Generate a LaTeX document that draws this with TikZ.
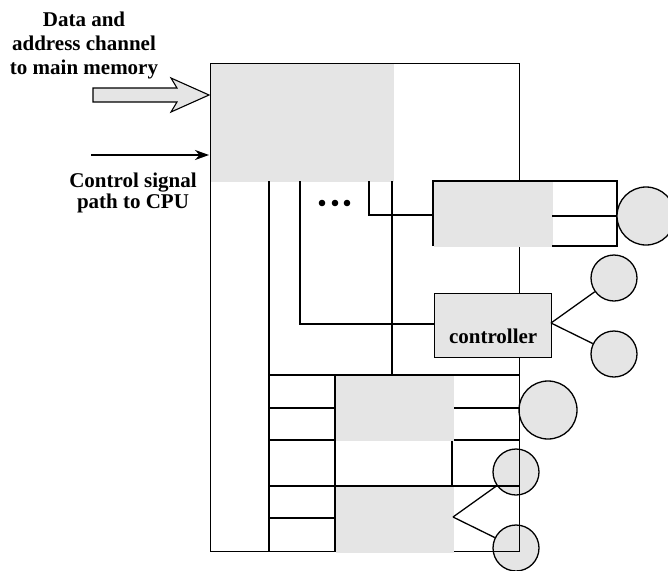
\documentclass[tikz,border=0pt]{standalone}
\usepackage{fontspec}
\setmainfont{Liberation Serif}
\usetikzlibrary{arrows.meta}
\definecolor{boxgray}{RGB}{229,229,229}
\begin{document}
\begin{tikzpicture}[x=1pt,y=-1pt, line width=1.3pt,
  grayarea/.style={fill=boxgray, draw=none, inner sep=0pt, anchor=north west},
  boxed/.style={fill=boxgray, draw=black, inner sep=0pt, anchor=north west},
  dev/.style={circle, draw=black, fill=boxgray, inner sep=0pt, line width=1.3pt},
  lbl/.style={font=\fontsize{21}{24}\selectfont\bfseries, align=center, inner sep=0pt}]
\useasboundingbox (0,0) rectangle (668,570);

% upper shaded area of the channel box
\node[grayarea, minimum width=183pt, minimum height=118pt] (top) at (210,63) {};

% devices overlapped by the frame lines
\node[dev, minimum size=58pt] (d1) at (548,410) {};
\node[dev, minimum size=46pt] (d2) at (516,472) {};
\node[dev, minimum size=46pt] (d3) at (516,548) {};

% outer frame
\node[draw=black, inner sep=0pt, anchor=north west, minimum width=309pt, minimum height=488pt] (frame) at (210,63) {};

% bus lines
\coordinate (b1t) at (269,181);  \coordinate (b1b) at (269,551);
\coordinate (b2t) at (392,181);  \coordinate (b2b) at (392,375);
\coordinate (b3t) at (300,181);  \coordinate (b3b) at (300,324);
\coordinate (b4t) at (369,181);  \coordinate (b4b) at (369,215);
\draw (b1t) -- (b1b);
\draw (b2t) -- (b2b);
\draw (269,375) -- (519,375);

% lower rows
\draw (335,375) -- (335,551);
\draw (269,408) -- (335,408);  \draw (453,408) -- (519,408);
\draw (269,440) -- (335,440);  \draw (452,440) -- (519,440);
\draw (269,486) -- (519,486);
\draw (269,518) -- (335,518);
\draw (452,440) -- (452,486);
\node[grayarea, minimum width=117.3pt, minimum height=64.3pt] (g1) at (335.7,375.7) {};
\node[grayarea, minimum width=117.3pt, minimum height=65.3pt] (g2) at (335.7,486.7) {};

% upper right unit
\node[grayarea, minimum width=119pt, minimum height=65pt] (u1) at (433,181) {};
\draw (433,246) -- (433,181) -- (617,181) -- (617,246) -- (552,246);
\draw (552,216) -- (617,216);
\node[dev, minimum size=58pt] (d0) at (646,216) {};
\draw (b4t) -- (b4b) -- (u1.west |- b4b);

% controller
\node[boxed, minimum width=117pt, minimum height=64pt] (ctl) at (434,293) {};
\node[lbl, anchor=base] at ([yshift=-18pt]ctl.center) {controller};
\draw (b3t) -- (b3b) -- (ctl.west |- b3b);
\node[dev, minimum size=46pt] (c1) at (614,278) {};
\node[dev, minimum size=46pt] (c2) at (614,354) {};
\coordinate (cf) at (551,323);
\draw (cf) -- (c1);
\draw (cf) -- (c2);

% fork from lower unit
\coordinate (lf) at (453,517);
\draw (lf) -- (d2);
\draw (lf) -- (d3);

% ellipsis dots
\fill (322,203) circle (3.3pt) (335,203) circle (3.3pt) (347,203) circle (3.3pt);

% inputs
\coordinate (in1) at (209,95);
\coordinate (in2) at (209,155);
\coordinate (s2) at (91,155);
\draw[fill=boxgray, line width=1.1pt] (93,88) -- (177,88) -- (171,78) -- (in1) -- (171,112) -- (177,102) -- (93,102) -- cycle;
\draw[line width=2.2pt, -{Stealth[length=14pt,width=10pt]}] (s2) -- (in2);

% labels
\node[lbl, anchor=north] (t1) at (84,10.8) {Data and\\address channel\\to main memory};
\node[lbl, anchor=north, font=\fontsize{21}{21}\selectfont\bfseries] (t2) at (133,172.7) {Control signal\\path to CPU};
\end{tikzpicture}
\end{document}
